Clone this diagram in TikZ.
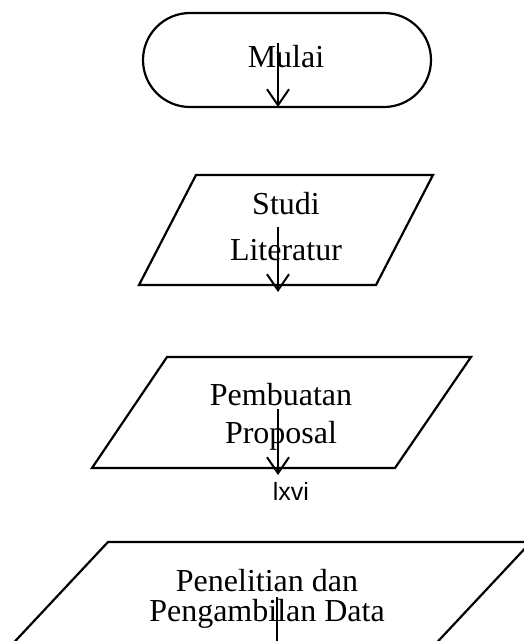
\documentclass[tikz,border=0pt]{standalone}
\usepackage{fontspec}
\setmainfont{Liberation Serif}
\newfontfamily\sansf{Liberation Sans}
\usetikzlibrary{arrows.meta}
\begin{document}
\begin{tikzpicture}[x=1pt,y=-1pt,
  shapeline/.style={draw=black, line width=2.2pt, line join=miter},
  flow/.style={line width=2pt, -{Straight Barb[length=16pt,width=22pt,line width=2pt]}},
  lbl/.style={inner sep=0pt, anchor=base, align=center}]
\useasboundingbox (0,0) rectangle (524,641);
\clip (0,0) rectangle (524,641);
% shapes
\draw[shapeline, rounded corners=47pt] (143,13) rectangle (431,107);
\draw[shapeline] (196,175) -- (433,175) -- (376,285) -- (139,285) -- cycle;
\draw[shapeline] (167,357) -- (471,357) -- (395,468) -- (92,468) -- cycle;
\draw[shapeline] (108,542) -- (531,542) -- (428,652) -- (5,652) -- cycle;
% texts
\node[lbl, font=\fontsize{32}{38}\selectfont] (mulai) at (286,67) {Mulai};
\node[lbl, font=\fontsize{32}{46}\selectfont] (studi) at (286,214) {\begin{tabular}[t]{@{}c@{}}Studi\\Literatur\end{tabular}};
\node[lbl, font=\fontsize{32}{38}\selectfont] (proposal) at (281,405) {\begin{tabular}[t]{@{}c@{}}Pembuatan\\Proposal\end{tabular}};
\node[lbl, font=\fontsize{32}{29}\selectfont] (penelitian) at (267,591) {\begin{tabular}[t]{@{}c@{}}Penelitian dan\\Pengambilan Data\end{tabular}};
\node[lbl, font=\sansf\fontsize{25}{30}\selectfont] (page) at (291,500) {lxvi};
% connectors
\coordinate (a1) at (278,43);  \coordinate (b1) at (278,107);
\coordinate (a2) at (278,227); \coordinate (b2) at (278,292);
\coordinate (a3) at (278,409); \coordinate (b3) at (278,475);
\coordinate (a4) at (277,597); \coordinate (b4) at (277,700);
\draw[flow] (a1) -- (b1);
\draw[flow] (a2) -- (b2);
\draw[flow] (a3) -- (b3);
\draw[line width=2pt] (a4) -- (b4);
\end{tikzpicture}
\end{document}
